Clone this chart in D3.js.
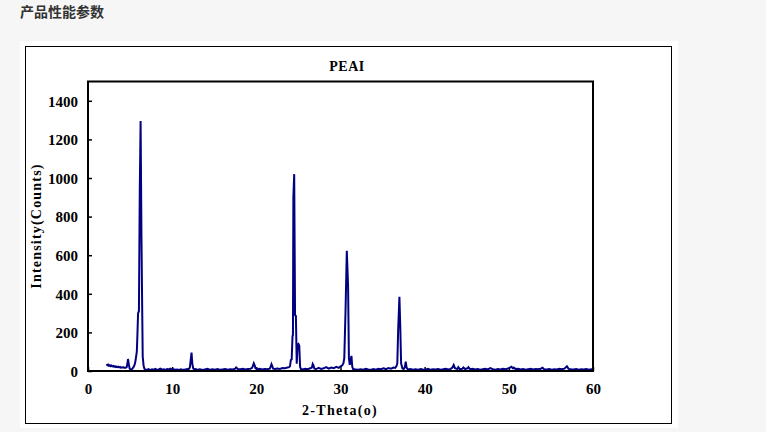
<!DOCTYPE html>
<html>
<head>
<meta charset="utf-8">
<script src="https://cdn.jsdelivr.net/npm/d3@7"></script>
<style>
  html, body { margin: 0; padding: 0; background: #f6f6f6; }
  #chart { width: 766px; height: 432px; }
</style>
</head>
<body>
<div id="chart"></div>
<script>
// --- Data (2-theta in degrees, intensity in counts) ---
const pageTitle = '产品性能参数';
const chartTitle = 'PEAI';
const xLabel = '2-Theta(o)';
const yLabel = 'Intensity(Counts)';
const xTicks = [0, 10, 20, 30, 40, 50, 60];
const yTicks = [0, 200, 400, 600, 800, 1000, 1200, 1400];

const twoTheta = [
  2.2, 2.3, 2.4, 2.5, 2.6, 2.7, 2.8, 2.9, 3.0, 3.1,
  3.2, 3.3, 3.4, 3.5, 3.6, 3.7, 3.8, 3.9, 4.0, 4.2,
  4.4, 4.6, 4.7, 4.75, 4.85, 4.95, 5.1, 5.2, 5.3, 5.4,
  5.5, 5.6, 5.7, 5.8, 5.85, 5.95, 6.05, 6.15, 6.25, 6.35,
  6.42, 6.5, 6.6, 6.7, 6.8, 7.0, 7.2, 7.4, 7.6, 7.8,
  8.0, 8.2, 8.4, 8.6, 8.8, 9.0, 9.2, 9.4, 9.6, 9.8,
  10.0, 10.2, 10.4, 10.6, 10.8, 11.0, 11.2, 11.4, 11.6, 11.8,
  11.9, 12.0, 12.1, 12.2, 12.3, 12.4, 12.5, 12.6, 12.8, 13.0,
  13.3, 13.6, 13.9, 14.2, 14.5, 14.8, 15.1, 15.4, 15.7, 16.0,
  16.3, 16.6, 16.9, 17.2, 17.5, 17.6, 17.8, 18.1, 18.4, 18.7,
  19.0, 19.3, 19.5, 19.6, 19.7, 19.8, 19.9, 20.1, 20.4, 20.7,
  21.0, 21.3, 21.6, 21.7, 21.8, 21.9, 22.0, 22.2, 22.5, 22.8,
  23.1, 23.4, 23.7, 23.9, 24.0, 24.1, 24.2, 24.3, 24.35, 24.4,
  24.5, 24.6, 24.7, 24.8, 24.9, 25.0, 25.1, 25.2, 25.3, 25.5,
  25.8, 26.1, 26.4, 26.6, 26.7, 26.8, 26.9, 27.1, 27.4, 27.7,
  28.0, 28.3, 28.6, 28.9, 29.2, 29.5, 29.8, 30.0, 30.2, 30.35,
  30.45, 30.6, 30.75, 30.9, 31.0, 31.1, 31.2, 31.3, 31.4, 31.5,
  31.8, 32.1, 32.4, 32.7, 33.0, 33.3, 33.6, 33.9, 34.2, 34.5,
  34.8, 35.1, 35.4, 35.7, 36.0, 36.3, 36.5, 36.65, 36.75, 36.85,
  37.0, 37.1, 37.2, 37.35, 37.5, 37.65, 37.75, 37.85, 38.0, 38.3,
  38.6, 38.9, 39.2, 39.5, 39.8, 40.1, 40.4, 40.7, 41.0, 41.3,
  41.6, 41.9, 42.2, 42.5, 42.8, 43.1, 43.3, 43.45, 43.6, 43.9,
  44.0, 44.2, 44.5, 44.6, 44.8, 45.1, 45.2, 45.4, 45.7, 46.0,
  46.3, 46.6, 46.9, 47.2, 47.5, 47.8, 48.1, 48.4, 48.7, 49.0,
  49.3, 49.6, 49.9, 50.1, 50.3, 50.5, 50.6, 50.8, 51.1, 51.4,
  51.7, 52.0, 52.3, 52.6, 52.9, 53.2, 53.5, 53.8, 54.0, 54.2,
  54.5, 54.8, 55.1, 55.4, 55.7, 56.0, 56.3, 56.6, 56.9, 57.1,
  57.4, 57.7, 58.0, 58.3, 58.6, 58.9, 59.2, 59.5, 59.8, 60.0
];
const counts = [
  36, 30, 33, 27, 30, 25, 28, 24, 26, 22,
  25, 21, 23, 20, 22, 19, 21, 17, 18, 19,
  16, 20, 45, 62, 35, 12, 6, 9, 14, 20,
  28, 42, 70, 100, 160, 300, 310, 930, 1295, 705,
  400, 75, 30, 12, 8, 6, 10, 5, 9, 7,
  11, 6, 8, 12, 7, 9, 6, 10, 8, 12,
  7, 9, 6, 8, 5, 9, 7, 6, 8, 10,
  9, 12, 18, 57, 95, 35, 14, 8, 10, 6,
  9, 5, 8, 11, 6, 9, 7, 10, 6, 8,
  10, 7, 9, 8, 12, 18, 10, 9, 12, 8,
  10, 11, 16, 28, 40, 30, 14, 9, 12, 8,
  10, 9, 12, 22, 35, 24, 12, 10, 13, 11,
  15, 14, 18, 20, 25, 57, 60, 181, 185, 900,
  1020, 290, 285, 38, 135, 140, 132, 22, 10, 8,
  12, 9, 14, 18, 36, 28, 12, 10, 16, 11,
  14, 20, 12, 18, 15, 22, 16, 24, 28, 40,
  67, 316, 623, 440, 67, 32, 55, 78, 22, 10,
  8, 6, 9, 7, 11, 8, 6, 10, 7, 12,
  9, 14, 10, 15, 12, 18, 16, 25, 40, 212,
  385, 233, 40, 14, 10, 20, 48, 18, 8, 10,
  7, 9, 6, 10, 8, 7, 11, 6, 9, 8,
  10, 7, 9, 12, 8, 11, 18, 31, 15, 10,
  20, 9, 12, 18, 10, 14, 20, 9, 11, 8,
  10, 7, 9, 11, 8, 15, 9, 7, 10, 8,
  11, 9, 13, 16, 22, 14, 18, 10, 12, 8,
  10, 7, 9, 11, 8, 10, 9, 12, 17, 9,
  8, 10, 7, 9, 8, 11, 9, 12, 24, 11,
  9, 8, 10, 7, 9, 8, 10, 7, 9, 8
];

const data = twoTheta.map((t, i) => ({ t: t, c: counts[i] }));

// --- Layout ---
const width = 766, height = 432;
const plot = { left: 88, right: 593, top: 81.5, bottom: 371 };
const serif = '"Liberation Serif", "Times New Roman", serif';

const svg = d3.select('#chart')
  .append('svg')
  .attr('width', width)
  .attr('height', height);

// page heading
svg.append('text')
  .attr('x', 20)
  .attr('y', 17)
  .attr('font-family', '"Noto Sans CJK SC", sans-serif')
  .attr('font-size', 14)
  .attr('font-weight', 'bold')
  .attr('fill', '#333')
  .text(pageTitle);

// white picture panel + thin outer frame
svg.append('rect')
  .attr('x', 20).attr('y', 41)
  .attr('width', 658).attr('height', 387)
  .attr('fill', '#fff');
svg.append('rect')
  .attr('x', 25.5).attr('y', 46.5)
  .attr('width', 646).attr('height', 377)
  .attr('fill', 'none')
  .attr('stroke', '#000')
  .attr('stroke-width', 1);

// scales
const x = d3.scaleLinear().domain([0, 60]).range([plot.left, plot.right]);
const y = d3.scaleLinear().domain([0, 1500]).range([plot.bottom, plot.top]);

// axes (ticks pointing inward)
const xAxis = svg.append('g')
  .attr('transform', `translate(0,${plot.bottom})`)
  .call(d3.axisBottom(x).tickValues(xTicks).tickSize(-4).tickPadding(12).tickFormat(d3.format('d')));
const yAxis = svg.append('g')
  .attr('transform', `translate(${plot.left},0)`)
  .call(d3.axisLeft(y).tickValues(yTicks).tickSize(-4).tickPadding(10).tickFormat(d3.format('d')));

[xAxis, yAxis].forEach(g => {
  g.select('.domain').remove();
  g.selectAll('line').attr('stroke', '#000').attr('stroke-width', 1.5);
  g.selectAll('text')
    .attr('font-family', serif)
    .attr('font-size', 15)
    .attr('font-weight', 'bold')
    .attr('fill', '#000');
});
yAxis.selectAll('text').attr('dy', '0.35em');

// the pattern
svg.append('defs').append('clipPath').attr('id', 'plotclip')
  .append('rect')
  .attr('x', plot.left).attr('y', plot.top)
  .attr('width', plot.right - plot.left).attr('height', plot.bottom - plot.top);

const line = d3.line()
  .x(d => x(d.t))
  .y(d => y(d.c));

svg.append('path')
  .datum(data)
  .attr('clip-path', 'url(#plotclip)')
  .attr('fill', 'none')
  .attr('stroke', '#000080')
  .attr('stroke-width', 2)
  .attr('stroke-linejoin', 'miter')
  .attr('d', line);

// plot frame
svg.append('rect')
  .attr('x', plot.left).attr('y', plot.top)
  .attr('width', plot.right - plot.left).attr('height', plot.bottom - plot.top)
  .attr('fill', 'none')
  .attr('stroke', '#000')
  .attr('stroke-width', 2);

// titles
svg.append('text')
  .attr('x', 347).attr('y', 71)
  .attr('text-anchor', 'middle')
  .attr('font-family', serif)
  .attr('font-size', 14)
  .attr('font-weight', 'bold')
  .attr('letter-spacing', 0.5)
  .text(chartTitle);

svg.append('text')
  .attr('x', 340).attr('y', 415)
  .attr('text-anchor', 'middle')
  .attr('font-family', serif)
  .attr('font-size', 14)
  .attr('font-weight', 'bold')
  .attr('letter-spacing', 1.3)
  .text(xLabel);

svg.append('text')
  .attr('transform', 'translate(41,226) rotate(-90)')
  .attr('text-anchor', 'middle')
  .attr('font-family', serif)
  .attr('font-size', 14)
  .attr('font-weight', 'bold')
  .attr('letter-spacing', 1.2)
  .text(yLabel);
</script>
</body>
</html>
